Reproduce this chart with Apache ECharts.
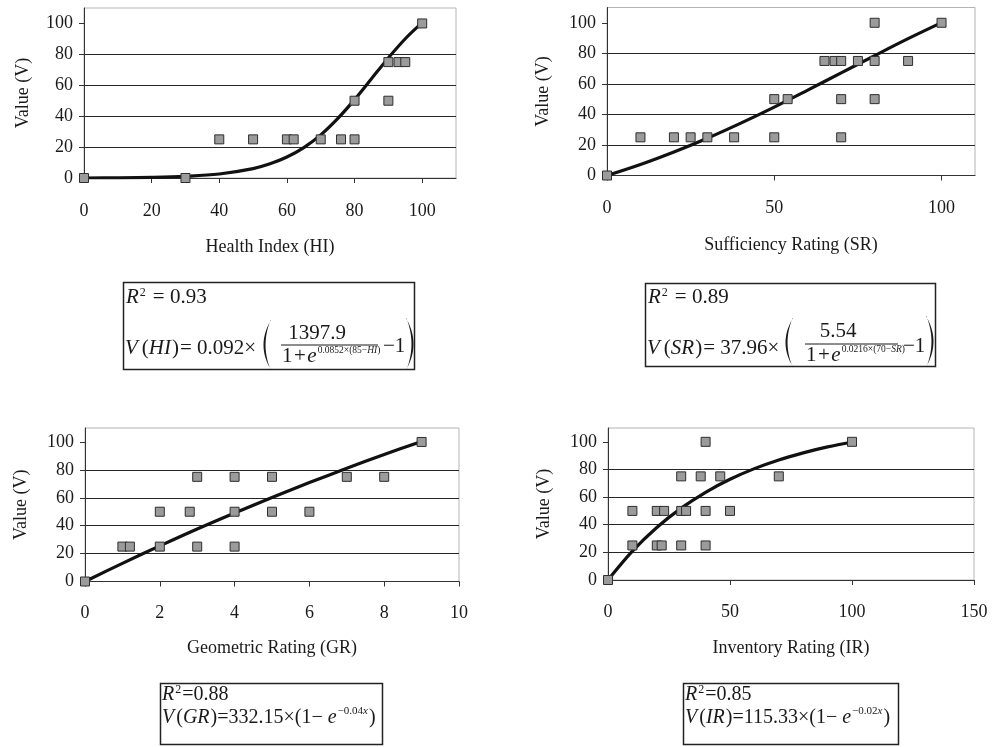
<!DOCTYPE html>
<html>
<head>
<meta charset="utf-8">
<script src="https://cdn.jsdelivr.net/npm/echarts@6/dist/echarts.min.js"></script>
<style>
  html, body { margin: 0; padding: 0; background: #fff; }
  #chart { width: 992px; height: 747px; }
</style>
</head>
<body>
<div id="chart"></div>
<script>
// Observed ratings and their assigned values, [rating, value]
const hiPoints = [[0,0],[30,0],[40,25],[50,25],[60,25],[62,25],[70,25],[76,25],[80,25],[80,50],[90,50],[90,75],[93,75],[95,75],[100,100]];
const srPoints = [[0,0],[10,25],[20,25],[25,25],[30,25],[38,25],[50,25],[50,50],[54,50],[65,75],[68,75],[70,75],[70,50],[70,25],[75,75],[80,75],[80,100],[80,50],[90,75],[100,100]];
const grPoints = [[0,0],[1,25],[1.2,25],[2,25],[2,50],[2.8,50],[3,75],[3,25],[4,75],[4,50],[4,25],[5,75],[5,50],[6,50],[7,75],[8,75],[9,100]];
const irPoints = [[0,0],[10,25],[10,50],[20,25],[22,25],[20,50],[23,50],[30,25],[30,50],[32,50],[30,75],[38,75],[40,25],[40,50],[40,100],[46,75],[50,50],[70,75],[100,100]];

// Fitted value curves (rating -> value)
const hiCurveX = [0,10,20,30,40,50,55,60,65,70,75,80,85,90,95,100];
const hiCurveV = [0,0.1,0.4,1.1,2.6,6.1,9.2,13.6,19.7,27.9,38.4,50.7,64.2,77.7,90.1,100.5];
const srCurveX = [0,10,20,30,40,50,60,70,80,90,100];
const srCurveV = [0,7.2,15.4,24.4,34.3,44.8,55.9,67.2,78.5,89.6,100.1];
const grCurveX = [0,1,2,3,4,5,6,7,8,9];
const grCurveV = [0,13.0,25.5,37.6,49.1,60.2,70.9,81.1,91.0,100.4];
const irCurveX = [0,10,20,30,40,50,60,70,80,90,100];
const irCurveV = [0,20.9,38.0,52.0,63.5,72.9,80.6,86.9,92.0,96.3,99.7];

// Tick labels
const hiTicks = [0,20,40,60,80,100];
const srTicks = [0,50,100];
const grTicks = [0,2,4,6,8,10];
const irTicks = [0,50,100,150];
const valueTicks = [0,20,40,60,80,100];

const FONT = '"Liberation Serif", "Times New Roman", Times, serif';
const INK = '#1a1a1a';
const AX = 18;

const zip = (xs, ys) => xs.map((x, i) => [x, ys[i]]);

function grid(left, top, width, height) {
  return { left, top, width, height, show: true, borderColor: '#b4b4b4', borderWidth: 1, backgroundColor: 'transparent' };
}

function xAxis(gi, max, interval, ticks, name, nameGap, margin) {
  return {
    type: 'value', gridIndex: gi, min: 0, max, interval,
    name, nameLocation: 'middle', nameGap,
    nameTextStyle: { fontFamily: FONT, fontSize: AX, color: INK },
    axisLine: { show: true, onZero: false, lineStyle: { color: '#333', width: 1 } },
    axisTick: { show: true, length: 5, customValues: ticks, lineStyle: { color: '#333' } },
    axisLabel: {
      customValues: ticks, margin, fontFamily: FONT, fontSize: AX, color: INK,
      formatter: v => (ticks.indexOf(v) >= 0 ? String(v) : '')
    },
    splitLine: { show: false }
  };
}

function yAxis(gi, nameGap) {
  return {
    type: 'value', gridIndex: gi, min: 0, max: 110, interval: 20,
    name: 'Value (V)', nameLocation: 'middle', nameGap,
    nameTextStyle: { fontFamily: FONT, fontSize: AX, color: INK },
    axisLine: { show: true, onZero: false, lineStyle: { color: '#333', width: 1 } },
    axisTick: { show: true, length: 5, customValues: valueTicks, lineStyle: { color: '#333' } },
    axisLabel: {
      customValues: valueTicks, margin: 11, fontFamily: FONT, fontSize: AX, color: INK,
      formatter: v => (valueTicks.indexOf(v) >= 0 ? String(v) : '')
    },
    splitLine: { show: true, showMinLine: false, showMaxLine: false, lineStyle: { color: '#262626', width: 1 } }
  };
}

function curve(gi, xs, ys) {
  return {
    type: 'line', xAxisIndex: gi, yAxisIndex: gi, data: zip(xs, ys),
    smooth: 0.35, showSymbol: false, silent: true,
    lineStyle: { color: '#111', width: 3.2 }, z: 2
  };
}

function dots(gi, pts) {
  return {
    type: 'scatter', xAxisIndex: gi, yAxisIndex: gi, data: pts,
    symbol: 'rect', symbolSize: 9,
    itemStyle: { color: '#9b9b9b', borderColor: '#2e2e2e', borderWidth: 1, opacity: 1 }, z: 3
  };
}

// ---------- formula boxes ----------
const measureCtx = document.createElement('canvas').getContext('2d');
function textWidth(t, size, italic) {
  measureCtx.font = (italic ? 'italic ' : '') + size + 'px ' + FONT;
  return measureCtx.measureText(t).width;
}
function textEl(t, x, baseline, size, italic, align) {
  return {
    type: 'text', silent: true,
    x: x, y: baseline - 0.34 * size,
    style: {
      text: t, fill: INK, fontFamily: FONT, fontSize: size,
      fontStyle: italic ? 'italic' : 'normal',
      align: align || 'left', verticalAlign: 'middle',
      textAlign: align || 'left', textVerticalAlign: 'middle'
    }
  };
}
// lay out a run of pieces [text, size, italic, rise, gapAfter] left to right
function run(x, baseline, parts, out) {
  let cx = x;
  for (const p of parts) {
    const [t, size, italic, rise, gap] = p;
    out.push(textEl(t, cx, baseline - (rise || 0), size, italic));
    cx += textWidth(t, size, italic) + (gap || 0);
  }
  return cx;
}
// tall bracket as a thin crescent
function paren(x, y0, y1, left, out) {
  const ym = (y0 + y1) / 2;
  const d = left ? -1 : 1;
  const pts = [];
  const N = 24;
  for (let i = 0; i <= N; i++) {
    const t = i / N, a = (1 - t) * (1 - t), b = 2 * t * (1 - t), c = t * t;
    pts.push([x * a + (x + d * 15) * b + x * c, y0 * a + ym * b + y1 * c]);
  }
  for (let i = N; i >= 0; i--) {
    const t = i / N, a = (1 - t) * (1 - t), b = 2 * t * (1 - t), c = t * t;
    pts.push([(x + d * 0.4) * a + (x + d * 10.5) * b + (x + d * 0.4) * c, y0 * a + ym * b + y1 * c]);
  }
  out.push({ type: 'polygon', silent: true, shape: { points: pts }, style: { fill: INK, stroke: null } });
}
function box(x, y, w, h, out) {
  out.push({ type: 'rect', silent: true, shape: { x, y, width: w, height: h }, style: { fill: 'none', stroke: '#222', lineWidth: 1.5 } });
}
function bar(x1, x2, y, out) {
  out.push({ type: 'line', silent: true, shape: { x1, y1: y, x2, y2: y }, style: { stroke: INK, lineWidth: 1 } });
}

const T = 21, S = 20, SUP = 12, EXP = 9.5, EXP2 = 11;
const gfx = [];

// Health Index box
box(123.5, 282.5, 291, 87, gfx);
run(126, 305, [['R', T, true, 0, 1], ['2', SUP, false, 8, 7], ['= 0.93', T, false]], gfx);
run(125, 356, [['V', T, true, 0, 4], ['(', T, false], ['HI', T, true, 0, 1], [')', T, false, 0, 1], ['= 0.092×', T, false]], gfx);
paren(271, 320, 370, true, gfx);
gfx.push(textEl('1397.9', 317, 341, T, false, 'center'));
bar(281, 378, 345, gfx);
run(282, 364, [['1', T, false, 0, 1.5], ['+', T, false, 0, 1.5], ['e', T, true, 0, 1], ['0.0852×(85−', EXP, false, 10], ['HI', EXP, true, 10], [')', EXP, false, 10]], gfx);
run(383, 354, [['−1', T, false]], gfx);
paren(406, 318, 370, false, gfx);

// Sufficiency Rating box
box(645.5, 283.5, 290, 83, gfx);
run(648, 305, [['R', T, true, 0, 1], ['2', SUP, false, 8, 7], ['= 0.89', T, false]], gfx);
run(647, 356, [['V', T, true, 0, 4], ['(', T, false], ['SR', T, true, 0, 1], [')', T, false, 0, 1], ['= 37.96×', T, false]], gfx);
paren(793, 318, 367, true, gfx);
gfx.push(textEl('5.54', 838, 339, T, false, 'center'));
bar(805, 898, 344, gfx);
run(806, 363, [['1', T, false, 0, 1.5], ['+', T, false, 0, 1.5], ['e', T, true, 0, 1], ['0.0216×(70−', EXP, false, 10], ['SR', EXP, true, 10], [')', EXP, false, 10]], gfx);
run(903, 354, [['−1', T, false]], gfx);
paren(926, 316, 367, false, gfx);

// Geometric Rating box
box(160.5, 683.5, 222, 61, gfx);
run(162, 702, [['R', S, true, 0, 1], ['2', SUP, false, 8, 1], ['=0.88', S, false]], gfx);
run(162, 725, [['V', S, true, 0, 2], ['(', S, false], ['GR', S, true, 0, 1], [')=332.15×(1− ', S, false], ['e', S, true, 0, 1], ['−0.04', EXP2, false, 10], ['x', EXP2, true, 10, 1], [')', S, false]], gfx);

// Inventory Rating box
box(683.5, 683.5, 215, 61, gfx);
run(685, 702, [['R', S, true, 0, 1], ['2', SUP, false, 8, 1], ['=0.85', S, false]], gfx);
run(685, 725, [['V', S, true, 0, 2], ['(', S, false], ['IR', S, true, 0, 1], [')=115.33×(1− ', S, false], ['e', S, true, 0, 1], ['−0.02', EXP2, false, 10], ['x', EXP2, true, 10, 1], [')', S, false]], gfx);

const chart = echarts.init(document.getElementById('chart'), null, { renderer: 'canvas' });
chart.setOption({
  animation: false,
  backgroundColor: '#fff',
  grid: [
    grid(84, 8, 372, 170),
    grid(607, 7.5, 368, 168),
    grid(85, 428, 374, 153.5),
    grid(608, 428, 366, 152)
  ],
  xAxis: [
    xAxis(0, 110, 20, hiTicks, 'Health Index (HI)', 60, 24),
    xAxis(1, 110, 50, srTicks, 'Sufficiency Rating (SR)', 61, 24),
    xAxis(2, 10, 2, grTicks, 'Geometric Rating (GR)', 58, 23),
    xAxis(3, 150, 50, irTicks, 'Inventory Rating (IR)', 59, 23)
  ],
  yAxis: [yAxis(0, 52), yAxis(1, 55), yAxis(2, 55), yAxis(3, 55)],
  series: [
    curve(0, hiCurveX, hiCurveV), dots(0, hiPoints),
    curve(1, srCurveX, srCurveV), dots(1, srPoints),
    curve(2, grCurveX, grCurveV), dots(2, grPoints),
    curve(3, irCurveX, irCurveV), dots(3, irPoints)
  ],
  graphic: gfx
});
</script>
</body>
</html>
